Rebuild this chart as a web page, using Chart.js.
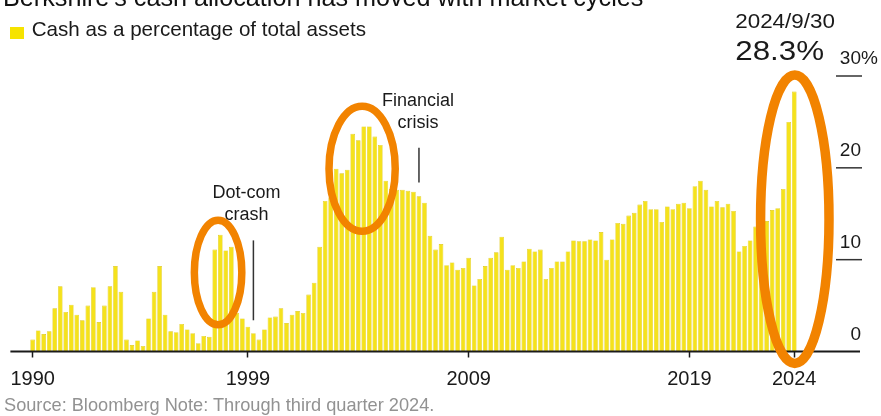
<!DOCTYPE html>
<html>
<head>
<meta charset="utf-8">
<script src="https://cdn.jsdelivr.net/npm/chart.js@4.4.1/dist/chart.umd.min.js"></script>
<style>
    body { margin: 0; background: #fff; }
    #wrap { position: relative; width: 881px; height: 416px; overflow: hidden; font-family: "Liberation Sans", Arial, sans-serif; color: #1a1a1a; }
    #cashChart { position: absolute; left: 0; top: 0; }
    .txt { position: absolute; white-space: nowrap; line-height: 1; }
    .title { left: 3px; top: -14.7px; font-size: 25.2px; color: #111; }
    .legend { left: 31.7px; top: 19.1px; font-size: 20.6px; }
    .legend-box { position: absolute; left: 9.5px; top: 27px; width: 14px; height: 12px; background: #f6e300; }
    .source { left: 4px; top: 395.8px; font-size: 18.2px; color: #929292; }
</style>
</head>
<body>
<div id="wrap">
    <canvas id="cashChart" width="881" height="416"></canvas>
    <div class="txt title">Berkshire's cash allocation has moved with market cycles</div>
    <div class="legend-box"></div>
    <div class="txt legend">Cash as a percentage of total assets</div>
    <div class="txt source">Source: Bloomberg Note: Through third quarter 2024.</div>
</div>
<script>
// Quarter categories, 1990 Q1 .. 2024 Q3
const quarters = [];
for (let yr = 1990; yr <= 2024; yr++) {
    for (let q = 1; q <= 4; q++) {
        if (yr === 2024 && q === 4) break;
        quarters.push(yr + ' Q' + q);
    }
}

// Cash as % of total assets
const cashPct = [
    1.3, 2.3, 1.9, 2.2, 4.7, 7.1, 4.3, 5.1, 4.0, 3.4,      // 1990-1992
    5.0, 7.0, 3.2, 5.0, 7.1, 9.3, 6.5, 1.3, 0.7, 1.2,      // 1992-1994
    0.6, 3.6, 6.5, 9.3, 4.0, 2.2, 2.1, 3.0, 2.4, 2.0,      // 1995-1997
    0.9, 1.7, 1.6, 11.1, 12.7, 11.0, 11.4, 4.2, 3.6, 2.7,  // 1997-1999
    2.0, 1.3, 2.4, 3.7, 3.8, 4.7, 3.1, 4.0, 4.4, 4.2,      // 2000-2002
    6.2, 7.5, 11.4, 16.4, 16.8, 19.9, 19.4, 19.8, 23.7, 23.0, // 2002-2004
    24.5, 24.5, 23.4, 22.5, 18.6, 17.7, 17.6, 17.6, 17.5, 17.4, // 2005-2007
    16.9, 16.2, 12.6, 11.1, 11.7, 9.4, 9.7, 8.9, 9.1, 10.2, // 2007-2009
    7.2, 7.9, 9.3, 10.2, 10.8, 12.5, 8.9, 9.4, 9.1, 9.8,   // 2010-2012
    11.2, 10.9, 11.1, 7.9, 9.1, 9.8, 9.8, 10.9, 12.1, 12.0, // 2012-2014
    12.0, 12.2, 12.1, 13.0, 10.0, 12.2, 14.0, 13.9, 14.8, 15.1, // 2015-2017
    16.0, 16.4, 15.5, 15.5, 14.1, 15.8, 15.5, 16.1, 16.2, 15.6, // 2017-2019
    18.0, 18.6, 17.6, 15.8, 16.4, 15.7, 16.1, 15.3, 10.9, 11.5, // 2020-2022
    12.1, 13.6, 13.1, 14.2, 15.4, 15.6, 17.7, 25.0, 28.3   // 2022-2024
];

// Axis labels
const xTickLabels = { '1990 Q1': '1990', '1999 Q4': '1999', '2009 Q4': '2009', '2019 Q4': '2019', '2024 Q3': '2024' };
const yTicks = [0, 10, 20, 30];
const lastDate = '2024/9/30';

// Event markers: quarter, text lines, marker span in % units
const events = [
    { at: '2000 Q1', lines: ['Dot-com', 'crash'], top: 12.1, bottom: 3.4, dx: -7 },
    { at: '2007 Q3', lines: ['Financial', 'crisis'], top: 22.2, bottom: 18.4, dx: -1 }
];

// Highlight rings: centre quarter index, half width in bars, span in % units
const rings = [
    { idx: 33.6, halfBars: 4.3, top: 14.3, bottom: 2.9, width: 7.5 },
    { idx: 59.7, halfBars: 6.0, top: 26.7, bottom: 13.1, width: 7.5 },
    { idx: 138.1, halfBars: 6.2, top: 30.1, bottom: -1.3, width: 9.5 }
];

const FONT = '"Liberation Sans", Arial, sans-serif';

// text drawn slightly wider, like the source rendering
function wideText(ctx, text, x, y, sx) {
    ctx.save();
    ctx.translate(x, y);
    ctx.scale(sx, 1);
    ctx.fillText(text, 0, 0);
    ctx.restore();
}

const overlay = {
    id: 'overlay',
    afterDatasetsDraw(chart) {
        const { ctx, chartArea: a, scales: { x, y } } = chart;
        const x0 = x.getPixelForValue(0);
        const bw = x.getPixelForValue(1) - x0;
        const xAt = i => x0 + i * bw;
        const base = y.getPixelForValue(0);

        ctx.save();

        // baseline
        ctx.strokeStyle = '#1a1a1a';
        ctx.lineWidth = 1.8;
        ctx.beginPath();
        ctx.moveTo(a.left - 19.5, base);
        ctx.lineTo(a.right + 63, base);
        ctx.stroke();

        // right-hand value axis
        ctx.lineWidth = 1.5;
        ctx.strokeStyle = '#333';
        ctx.fillStyle = '#1a1a1a';
        ctx.font = '19px ' + FONT;
        yTicks.forEach(v => {
            const py = y.getPixelForValue(v);
            if (v > 0) {
                ctx.beginPath();
                ctx.moveTo(a.right + 39, py);
                ctx.lineTo(a.right + 65, py);
                ctx.stroke();
            }
            ctx.textAlign = 'right';
            ctx.fillText(String(v), a.right + 64, py - 12);
            if (v === yTicks[yTicks.length - 1]) {
                ctx.textAlign = 'left';
                ctx.fillText('%', a.right + 64, py - 12);
            }
        });

        // event markers
        ctx.font = '18px ' + FONT;
        ctx.textAlign = 'center';
        events.forEach(ev => {
            const px = x.getPixelForValue(quarters.indexOf(ev.at));
            const t = y.getPixelForValue(ev.top);
            ctx.beginPath();
            ctx.moveTo(px, t);
            ctx.lineTo(px, y.getPixelForValue(ev.bottom));
            ctx.stroke();
            ctx.fillText(ev.lines[0], px + ev.dx, t - 42);
            ctx.fillText(ev.lines[1], px + ev.dx, t - 20);
        });

        // latest value callout
        const last = cashPct.length - 1;
        const lx = x.getPixelForValue(last) - 59;
        ctx.textAlign = 'left';
        ctx.font = '20px ' + FONT;
        wideText(ctx, lastDate, lx, 28, 1.12);
        ctx.font = '27.5px ' + FONT;
        wideText(ctx, cashPct[last].toFixed(1) + '%', lx, 59.5, 1.14);

        // orange rings
        ctx.strokeStyle = '#f28300';
        rings.forEach(r => {
            const t = y.getPixelForValue(r.top);
            const b = y.getPixelForValue(r.bottom);
            ctx.lineWidth = r.width;
            ctx.beginPath();
            ctx.ellipse(xAt(r.idx), (t + b) / 2, r.halfBars * bw, (b - t) / 2, 0, 0, Math.PI * 2);
            ctx.stroke();
        });

        ctx.restore();
    }
};

new Chart(document.getElementById('cashChart'), {
    type: 'bar',
    data: {
        labels: quarters,
        datasets: [{
            label: 'Cash as a percentage of total assets',
            data: cashPct,
            backgroundColor: '#f5e21c',
            borderColor: '#dcc512',
            borderWidth: 0.6,
            barPercentage: 0.84,
            categoryPercentage: 1
        }]
    },
    options: {
        responsive: false,
        animation: false,
        devicePixelRatio: 1,
        layout: { padding: { left: 28.5, right: 84, top: 76, bottom: 0 } },
        plugins: {
            legend: { display: false },
            tooltip: { enabled: false }
        },
        scales: {
            x: {
                afterFit: s => { s.height = 64.5; },
                border: { display: false },
                grid: {
                    drawOnChartArea: false,
                    offset: false,
                    tickLength: 6,
                    tickWidth: 1.5,
                    tickColor: '#1a1a1a'
                },
                ticks: {
                    autoSkip: false,
                    maxRotation: 0,
                    padding: 10.3,
                    color: '#1a1a1a',
                    font: { family: FONT, size: 20 },
                    callback: function (val) {
                        const lab = xTickLabels[this.getLabelForValue(val)];
                        return lab === undefined ? null : lab;
                    }
                }
            },
            y: {
                display: false,
                min: 0,
                max: 30
            }
        }
    },
    plugins: [overlay]
});
</script>
</body>
</html>
